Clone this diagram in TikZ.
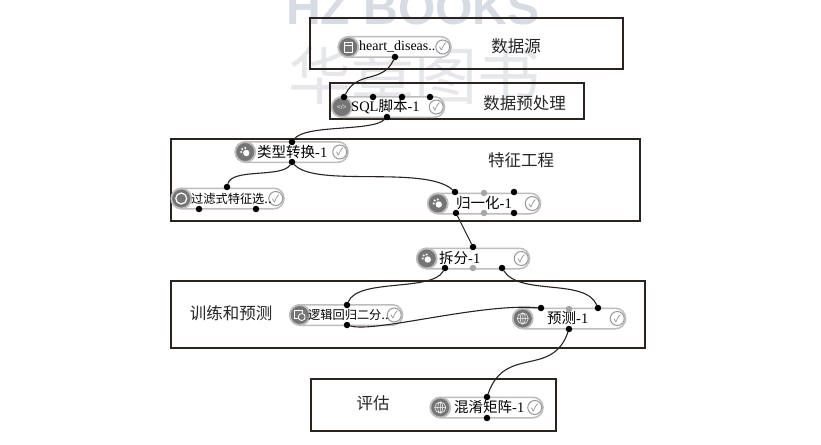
\documentclass[tikz,border=0pt]{standalone}
\usepackage{fontspec}
\setmainfont{Liberation Serif}
\newfontfamily\cjk{Noto Sans CJK SC}
\newfontfamily\wmf{Liberation Sans}
\definecolor{boxc}{HTML}{2A2320}
\definecolor{wma}{HTML}{D6DBE4}
\definecolor{wmb}{HTML}{E6E7EA}
\definecolor{pillc}{HTML}{BDBDBD}
\definecolor{iconc}{HTML}{757575}
\tikzset{
  frame/.style={draw=boxc,line width=1.2pt,fill=none},
  pill/.style={draw=pillc,line width=1.5pt,fill=white,rounded corners=10pt,minimum height=20.5pt,minimum width=112pt,inner sep=0pt},
  tag/.style={font=\fontsize{16.5}{16.5}\selectfont\cjk,text=black!85},
  ptxt/.style={font=\fontsize{14.5}{14.5}\selectfont,text=black,inner sep=0pt,anchor=west},
  port/.style={circle,fill=black,inner sep=0pt,minimum size=6.5pt},
  gport/.style={circle,fill=gray!70,inner sep=0pt,minimum size=6.5pt},
  icon/.style={circle,fill=iconc,draw=pillc,line width=1.8pt,inner sep=0pt,minimum size=20pt},
  okc/.style={circle,draw=gray!80,fill=white,line width=1pt,inner sep=0pt,minimum size=14pt,font=\fontsize{10}{10}\selectfont\cjk,text=gray},
  glyph/.style={draw=white,line width=.8pt,fill=none},
  link/.style={draw=boxc,line width=1.1pt},
  wmark/.style={inner sep=0pt}
}
% name, cx, cy, text, text left x
\newcommand{\pillnode}[5]{%
  \node[pill] (#1) at (#2,#3) {};
  \node[icon] (#1i) at ([xshift=10pt]#1.west) {};
  \node[okc] (#1c) at ([xshift=-9pt]#1.east) {\char"2713};
  \node[ptxt] (#1t) at (#5,#3) {#4};
}
\newcommand{\handicon}[1]{\fill[white] ([shift={(-3,-3)}]#1) circle (1.2) ([shift={(0,-4)}]#1) circle (1.2) ([shift={(-4,0)}]#1) circle (1.2) ([shift={(1,1)}]#1) circle (3.2);}
\newcommand{\globeicon}[1]{\draw[glyph,line width=.5pt] (#1) circle (5.5) ([xshift=-5.5pt]#1) -- ([xshift=5.5pt]#1) ([yshift=-5.5pt]#1) -- ([yshift=5.5pt]#1); \draw[glyph,line width=.5pt] (#1) ellipse (2.6 and 5.5);}
\begin{document}
\begin{tikzpicture}[x=1pt,y=-1pt]
\useasboundingbox (0,0) rectangle (821,444);
\fill[white] (0,0) rectangle (821,444);
% watermark
\node[wmark,text=wma,anchor=base,font=\fontsize{48}{48}\selectfont\wmf\bfseries] (wm1) at (413,25) {HZ BOOKS};
\node[wmark,text=wmb,font=\fontsize{63}{63}\selectfont\cjk] (wm2) at (414,75) {华章图书};
% frames
\draw[frame] (310,18) rectangle (623,69);
\draw[frame] (330,83) rectangle (584,119);
\draw[frame] (171,139) rectangle (640,221);
\draw[frame] (171,281) rectangle (645,348);
\draw[frame] (311,379) rectangle (556,431);
% tags
\node[tag] (t1) at (516,46) {数据源};
\node[tag] (t2) at (524.5,103) {数据预处理};
\node[tag] (t3) at (521,160) {特征工程};
\node[tag] (t4) at (231,313) {训练和预测};
\node[tag] (t5) at (373,403) {评估};
% pills
\pillnode{a}{395}{47}{\fontsize{14}{14}\selectfont heart\_diseas..}{359}
\pillnode{b}{388.5}{107}{SQL{\cjk 脚本}-1}{351}
\pillnode{c}{292}{152}{{\cjk 类型转换}-1}{257}
\pillnode{d}{228}{198.5}{{\cjk\fontsize{12.2}{12.2}\selectfont 过滤式特征选}..}{191}
\pillnode{e}{484.5}{203.5}{{\cjk 归一化}-1}{456}
\pillnode{f}{473.5}{258.5}{{\cjk 拆分}-1}{439}
\pillnode{g}{346.5}{315}{{\cjk\fontsize{12.2}{12.2}\selectfont 逻辑回归二分}..}{308}
\pillnode{h}{569.5}{318.5}{{\cjk 预测}-1}{547}
\pillnode{i}{487}{407.5}{{\cjk 混淆矩阵}-1}{454}
% icon glyphs
\draw[glyph] ([shift={(-4,-5)}]ai.center) rectangle ([shift={(4,5)}]ai.center);
\draw[glyph] ([shift={(-4,-2)}]ai.center) -- ([shift={(4,-2)}]ai.center);
\node[inner sep=0pt,text=white,font=\fontsize{7}{7}\selectfont\bfseries] (bg) at (bi) {</>};
\handicon{ci.center}
\handicon{ei.center}
\handicon{fi.center}
\draw[glyph,line width=1.2pt] (di.center) circle (5.5);
\draw[glyph] ([shift={(-5,-5)}]gi.center) rectangle ([shift={(3,3)}]gi.center);
\draw[glyph,fill=iconc] ([shift={(2,2)}]gi.center) circle (3.5);
\globeicon{hi.center}
\globeicon{ii.center}
% ports
\foreach \n/\x/\y in {a1/395/57,b1/344/97,b2/373/97,b3/402/97,b4/430/97,b5/387/117,
  c1/292/142,c2/292/162,d1/227/187,d2/199/209,d3/256/209,e1/455/192,e2/514/192,e3/456/213,e4/514/213,
  f1/473/247,f2/445/268,f3/502/268,g1/347/305,g2/347/325,h1/541/308,h2/598/308,h3/569/329,i1/487/397,i2/487/418}
  \node[port] (\n) at (\x,\y) {};
\foreach \n/\x/\y in {e5/484/193,e6/484/213,f4/473/268,h4/569/309}
  \node[gport] (\n) at (\x,\y) {};
% links
\draw[link] (a1) .. controls (382,84) and (358,70) .. (b1);
\draw[link] (b5) .. controls (372,132) and (305,124) .. (c1);
\draw[link] (c2) .. controls (282,178) and (232,168) .. (d1);
\draw[link] (c2) .. controls (315,188) and (425,165) .. (e1);
\draw[link] (e3) -- (f1);
\draw[link] (f2) .. controls (432,292) and (358,278) .. (g1);
\draw[link] (f3) .. controls (520,296) and (585,278) .. (h2);
\draw[link] (g2) .. controls (375,333) and (480,303) .. (h1);
\draw[link] (h3) .. controls (552,378) and (505,345) .. (i1);
\end{tikzpicture}
\end{document}
